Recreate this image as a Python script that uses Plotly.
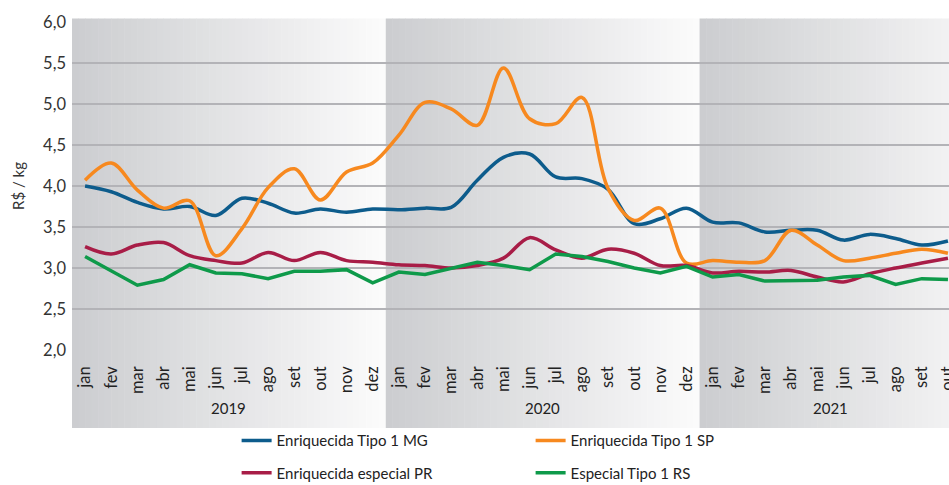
import plotly.graph_objects as go

months = ["jan", "fev", "mar", "abr", "mai", "jun", "jul", "ago", "set", "out", "nov", "dez"]
years = ["2019", "2020", "2021"]
tick_labels = months * 2 + months[:10]

mg = [4.00, 3.93, 3.80, 3.72, 3.75, 3.64, 3.85, 3.79, 3.67, 3.72, 3.68, 3.72,
      3.71, 3.73, 3.74, 4.07, 4.35, 4.39, 4.11, 4.09, 3.96, 3.54, 3.60, 3.73,
      3.56, 3.55, 3.44, 3.46, 3.46, 3.34, 3.41, 3.36, 3.28, 3.33]
sp = [4.07, 4.28, 3.95, 3.73, 3.82, 3.15, 3.48, 3.98, 4.21, 3.83, 4.17, 4.28,
      4.62, 5.02, 4.94, 4.74, 5.44, 4.82, 4.76, 5.08, 3.97, 3.58, 3.73, 3.06,
      3.09, 3.07, 3.09, 3.46, 3.28, 3.09, 3.12, 3.18, 3.23, 3.18]
pr = [3.26, 3.17, 3.28, 3.31, 3.15, 3.09, 3.06, 3.19, 3.09, 3.19, 3.09, 3.07,
      3.04, 3.03, 3.00, 3.03, 3.12, 3.37, 3.22, 3.12, 3.23, 3.18, 3.03, 3.03,
      2.94, 2.96, 2.95, 2.97, 2.89, 2.83, 2.93, 3.00, 3.06, 3.12]
rs = [3.14, 2.97, 2.79, 2.86, 3.04, 2.94, 2.93, 2.87, 2.96, 2.96, 2.98, 2.82,
      2.95, 2.92, 2.99, 3.07, 3.03, 2.98, 3.17, 3.14, 3.08, 3.00, 2.94, 3.02,
      2.89, 2.92, 2.84, 2.84, 2.85, 2.89, 2.91, 2.80, 2.87, 2.86]

names = ["Enriquecida Tipo 1 MG", "Enriquecida Tipo 1 SP",
         "Enriquecida especial PR", "Especial Tipo 1 RS"]
colors = ["#0d5c8c", "#f7891f", "#a81d47", "#0e9a4a"]

x = list(range(len(tick_labels)))
FONT = "Lato"

fig = go.Figure()
series = [mg, sp, pr, rs]
legends = ["legend", "legend", "legend2", "legend2"]
for i, (vals, name, col, lg) in enumerate(zip(series, names, colors, legends)):
    fig.add_trace(go.Scatter(
        x=x, y=vals, name=name, mode="lines",
        line=dict(color=col, width=3.5,
                  shape="linear" if i == 3 else "spline", smoothing=1.0),
        legend=lg, hoverinfo="skip"))

# gradient year bands
shapes = []
c0 = (204, 205, 208)
c1 = (251, 251, 251)
n = 48
for k in range(len(years)):
    start = -0.5 + 12 * k
    for j in range(n):
        t = j / (n - 1)
        col = tuple(round(c0[m] + (c1[m] - c0[m]) * t) for m in range(3))
        xa = start + 12 * j / n
        xb = start + 12 * (j + 1) / n + (0.02 if j < n - 1 else 0)
        shapes.append(dict(type="rect", xref="x", yref="paper",
                           x0=xa, x1=xb, y0=-0.238, y1=1.011,
                           fillcolor="rgb(%d,%d,%d)" % col,
                           line=dict(width=0), layer="below"))

annotations = []
year_pos = [5.5, 17.5, 28.5]
for yr, xp in zip(years, year_pos):
    annotations.append(dict(x=xp, y=-0.177, xref="x", yref="paper",
                            text=yr, showarrow=False,
                            font=dict(family=FONT, size=15, color="#222222"),
                            xanchor="center", yanchor="middle"))

leg_common = dict(orientation="h", x=0.1877, xanchor="left",
                  yanchor="middle", entrywidth=249, entrywidthmode="pixels",
                  font=dict(family=FONT, size=15, color="#222222"),
                  bgcolor="rgba(0,0,0,0)", tracegroupgap=0)

fig.update_layout(
    template="none",
    width=949, height=485,
    margin=dict(l=72, r=0, t=22, b=135, autoexpand=False),
    paper_bgcolor="white", plot_bgcolor="rgba(0,0,0,0)",
    separators=",.",
    font=dict(family=FONT, size=15, color="#333333"),
    shapes=shapes, annotations=annotations,
    xaxis=dict(range=[-0.5, 33.04], tickmode="array", tickvals=x,
               ticktext=tick_labels, tickangle=-90, showgrid=False,
               zeroline=False, showline=False, ticks="", ticklabelstandoff=12,
               ticklabeloverflow="allow", automargin=False,
               tickfont=dict(family=FONT, size=16.5, color="#222222")),
    yaxis=dict(range=[2, 6], dtick=0.5, tick0=2, tickformat=".1f",
               showgrid=True, gridcolor="#b3b3b7", gridwidth=2,
               zeroline=False, showline=False, ticks="", ticklabelstandoff=5,
               automargin=False,
               title=dict(text="R$ / kg", standoff=14,
                          font=dict(family=FONT, size=15, color="#333333")),
               tickfont=dict(family=FONT, size=16.5, color="#333333")),
    legend=dict(y=-0.277, **leg_common),
    legend2=dict(y=-0.375, **leg_common),
    showlegend=True,
)

fig.write_html("out.html", config={"displayModeBar": False},
               post_script="document.body.style.margin='0px';")
